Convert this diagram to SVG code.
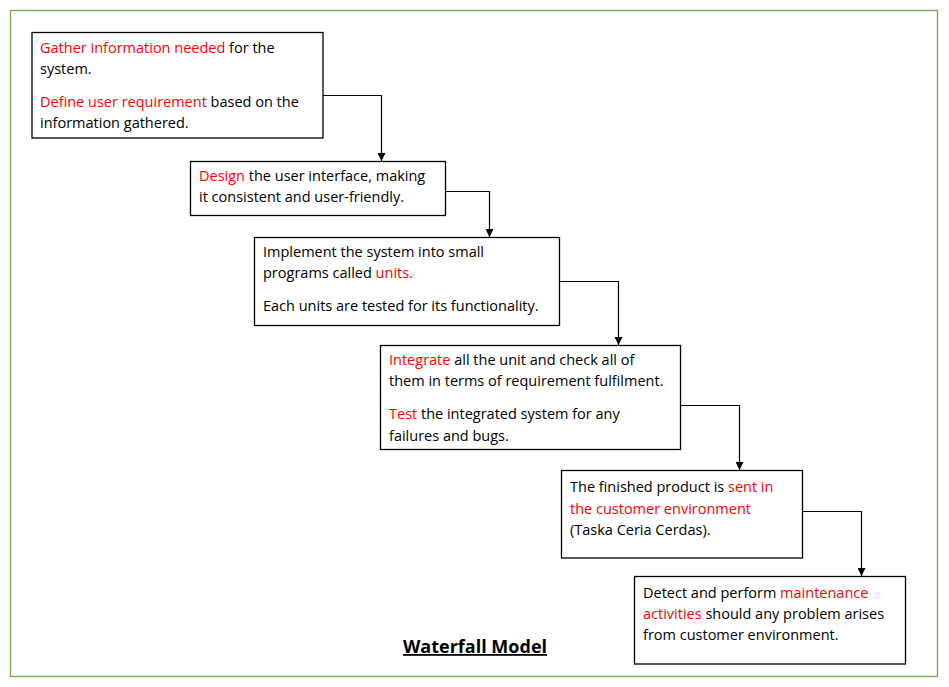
<svg xmlns="http://www.w3.org/2000/svg" width="949" height="687" viewBox="0 0 949 687">
<style>
.box{fill:#fff;stroke:#000;stroke-width:1.3}
.t{font-family:"Open Sans","Liberation Sans",sans-serif;font-size:14.5px;fill:#000}
.r{fill:#ff0000}
.c{fill:none;stroke:#000;stroke-width:1.2}
.title{font-family:"Open Sans","Liberation Sans",sans-serif;font-size:18px;font-weight:bold;text-decoration:underline;fill:#000}
</style>
<defs>
<marker id="ah" viewBox="0 0 10 10" refX="10" refY="5" markerWidth="8" markerHeight="8" markerUnits="userSpaceOnUse" orient="auto">
<path d="M0,0 L10,5 L0,10 z" fill="#000"/>
</marker>
</defs>
<rect width="949" height="687" fill="#fff"/>
<rect x="10.5" y="10.5" width="927" height="666" fill="none" stroke="#70ad47" stroke-width="1.3"/>
<g id="connectors">
<path class="c" d="M323,95.5 H381.5 V161" marker-end="url(#ah)"/>
<path class="c" d="M445,191.5 H489.5 V237" marker-end="url(#ah)"/>
<path class="c" d="M559,281.5 H618.5 V345" marker-end="url(#ah)"/>
<path class="c" d="M680,405.5 H739.5 V470" marker-end="url(#ah)"/>
<path class="c" d="M802,511.5 H861.5 V576" marker-end="url(#ah)"/>
</g>
<g id="n1">
<rect class="box" x="32" y="32.5" width="291" height="105.5"/>
<text class="t" x="40" y="53"><tspan class="r">Gather information needed</tspan> for the</text>
<text class="t" x="40" y="74">system.</text>
<text class="t" x="40" y="107"><tspan class="r">Define user requirement</tspan> based on the</text>
<text class="t" x="40" y="128">information gathered.</text>
</g>
<g id="n2">
<rect class="box" x="190.5" y="161.5" width="255" height="54"/>
<text class="t" x="199" y="180.5"><tspan class="r">Design</tspan> the user interface, making</text>
<text class="t" x="199" y="201.5">it consistent and user-friendly.</text>
</g>
<g id="n3">
<rect class="box" x="254.5" y="237.5" width="305" height="88"/>
<text class="t" x="263" y="257">Implement the system into small</text>
<text class="t" x="263" y="278">programs called <tspan class="r">units.</tspan></text>
<text class="t" x="263" y="310.5">Each units are tested for its functionality.</text>
</g>
<g id="n4">
<rect class="box" x="380.5" y="345.5" width="300" height="104"/>
<text class="t" x="389" y="365"><tspan class="r">Integrate</tspan> all the unit and check all of</text>
<text class="t" x="389" y="386">them in terms of requirement fulfilment.</text>
<text class="t" x="389" y="419"><tspan class="r">Test</tspan> the integrated system for any</text>
<text class="t" x="389" y="441">failures and bugs.</text>
</g>
<g id="n5">
<rect class="box" x="561.5" y="470.5" width="241" height="87.5"/>
<text class="t" x="570" y="492">The finished product is <tspan class="r">sent in</tspan></text>
<text class="t r" x="570" y="513.5">the customer environment</text>
<text class="t" x="570" y="534.5">(Taska Ceria Cerdas).</text>
</g>
<g id="n6">
<rect class="box" x="634.5" y="576.5" width="271" height="87.5"/>
<text class="t" x="643" y="597.5">Detect and perform <tspan class="r">maintenance</tspan></text>
<text class="t" x="643" y="619"><tspan class="r">activities</tspan> should any problem arises</text>
<text class="t" x="643" y="640">from customer environment.</text>
</g>
<text class="title" x="475" y="653" text-anchor="middle">Waterfall Model</text>
</svg>
